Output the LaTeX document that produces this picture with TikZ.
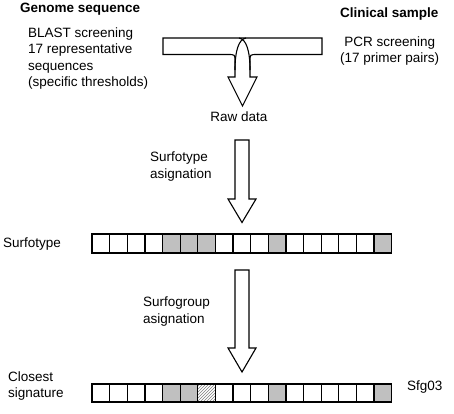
\documentclass[tikz,border=0pt]{standalone}
\usepackage{fontspec}
\setmainfont{Liberation Sans}
\usepackage{tikz}
\usetikzlibrary{positioning}
\usetikzlibrary{patterns}
\definecolor{cellgray}{RGB}{192,192,192}
\tikzstyle{label_text}=[font=\fontsize{13.5}{16.2}\selectfont, inner sep=0pt, align=left]
\tikzstyle{label_bold}=[inner sep=0pt, font=\fontsize{13.5}{16.2}\selectfont\bfseries]
\tikzstyle{cell}=[draw=black, line width=1.3pt, minimum width=17.63pt, minimum height=19pt, inner sep=0pt]
\tikzstyle{cell_hit}=[cell, fill=cellgray]
\tikzstyle{cell_hatch}=[cell, pattern=north east lines, pattern color=gray]
\tikzstyle{block_arrow}=[draw=black, fill=white, line width=1.1pt, line join=miter]

\begin{document}
\begin{tikzpicture}[x=1pt, y=-1pt]
          \useasboundingbox (0,0) rectangle (454,413);
          % sources
          \node[label_bold, anchor=west] (genome) at (20,9){Genome sequence};
          \node[label_bold, anchor=west] (clinical) at (340,14){Clinical sample};
          \node[label_text, anchor=west] (blast) at (28,58.5){BLAST screening\\17 representative\\sequences\\(specific thresholds)};
          \node[label_text, anchor=west, align=center] (pcr) at (340,51){PCR screening\\(17 primer pairs)};
          % merging arrow
          \draw[block_arrow] (163,38) -- (322,38) -- (322,54.5) -- (257,54.5) .. controls (250,54.5) .. (250,61.5)
                -- (250,77) -- (257,77) -- (242.5,106) -- (228,77) -- (235,77) -- (235,61.5)
                .. controls (235,54.5) .. (228,54.5) -- (163,54.5) -- cycle;
          \draw[line width=1.1pt] (235,70) .. controls (235,50) and (239,39) .. (246,38);
          \draw[line width=1.1pt] (250,70) .. controls (250,50) and (246,39) .. (239,38);
          \node[label_text] (raw) at (239,117){Raw data};
          % surfotype
          \draw[block_arrow] (235,140) -- (249,140) -- (249,199) -- (256,199) -- (242,222.5) -- (228,199) -- (235,199) -- cycle;
          \node[label_text, anchor=west] (typestep) at (150,166.5){Surfotype\\asignation};
          \node[label_text, anchor=west] (surfotype) at (3,244){Surfotype};
          \foreach \i/\s in {1/cell,2/cell,3/cell,4/cell,5/cell_hit,6/cell_hit,7/cell_hit,8/cell,9/cell,10/cell,11/cell_hit,12/cell,13/cell,14/cell,15/cell,16/cell,17/cell_hit}
            \node[\s] (st\i) at ({92+17.63*(\i-0.5)},243.5){};
          % surfogroup
          \draw[block_arrow] (235,270) -- (249,270) -- (249,348) -- (256,348) -- (242,372) -- (228,348) -- (235,348) -- cycle;
          \node[label_text, anchor=west] (groupstep) at (143,311.5){Surfogroup\\asignation};
          \node[label_text, anchor=west] (closest) at (8,386){Closest\\signature};
          \foreach \i/\s in {1/cell,2/cell,3/cell,4/cell,5/cell_hit,6/cell_hit,7/cell_hatch,8/cell,9/cell,10/cell,11/cell_hit,12/cell,13/cell,14/cell,15/cell,16/cell,17/cell_hit}
            \node[\s, minimum height=18pt] (sg\i) at ({92+17.63*(\i-0.5)},393){};
          \node[label_text, anchor=west] (sfg) at (407,387){Sfg03};
        \end{tikzpicture}
\end{document}
